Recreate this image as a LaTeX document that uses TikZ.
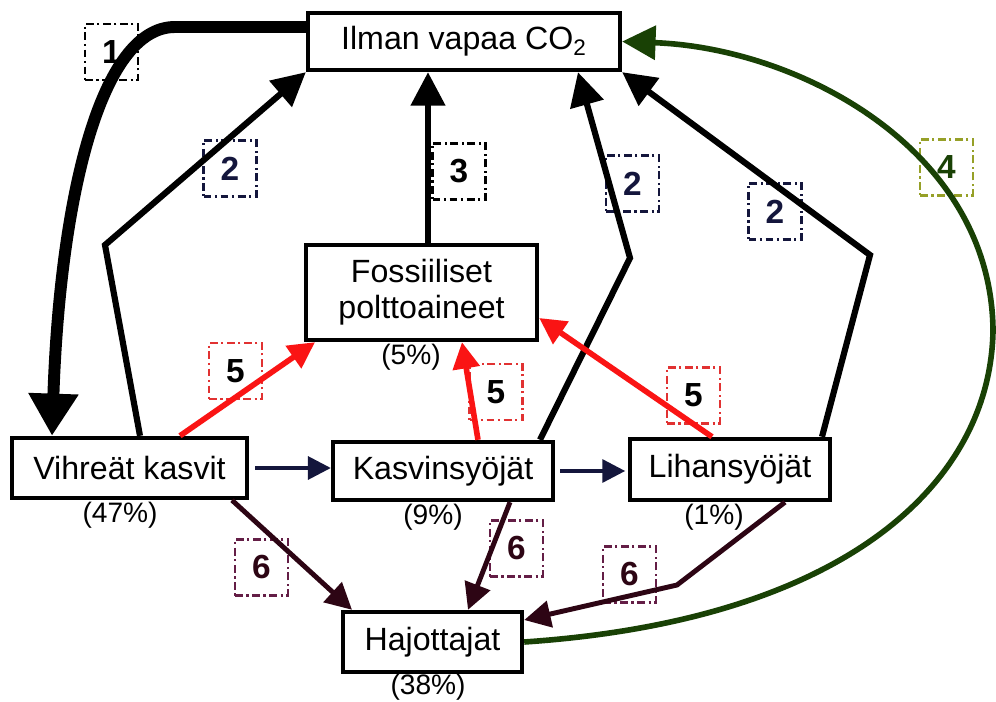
\documentclass[tikz,border=0pt]{standalone}
\usepackage{fontspec}
\setmainfont{Liberation Sans}
\usepackage{xcolor}
\usepackage{tikz}
\usetikzlibrary{arrows.meta, positioning}
\definecolor{navyline}{RGB}{20, 22, 60}
\definecolor{flowred}{RGB}{250, 20, 20}
\definecolor{tagred}{RGB}{225, 50, 50}
\definecolor{maroonline}{RGB}{45, 5, 20}
\definecolor{tagmaroon}{RGB}{100, 30, 70}
\definecolor{darkgreen}{RGB}{25, 65, 5}
\definecolor{tagolive}{RGB}{150, 160, 40}
\tikzstyle{block} = [
    rectangle,
    draw=black,
    line width=2.5pt,
    fill=white,
    align=center,
    inner sep=0pt,
    font=\fontsize{18.3}{20.4}\selectfont
]
\tikzstyle{pct} = [
    inner sep=0pt,
    font=\fontsize{16}{18}\selectfont
]
\tikzstyle{numtag} = [
    rectangle,
    draw=black,
    line width=1.2pt,
    dash pattern=on 4.5pt off 2pt on 1.2pt off 2pt,
    minimum width=1.06cm,
    minimum height=1.12cm,
    font=\fontsize{19}{20}\selectfont\bfseries
]
\tikzstyle{arrow} = [
    line width=3.5pt,
    -{Triangle[length=19pt, width=19pt]}
]
\tikzstyle{thinarrow} = [
    line width=2.8pt,
    -{Triangle[length=15pt, width=15pt]}
]

\begin{document}
\begin{tikzpicture}[x=0.02cm, y=-0.02cm]
        \fill[white] (0,0) rectangle (996,702);
        \useasboundingbox (0,0) rectangle (996,702);

        \node[numtag] (t1) at (111.5,52) {1};
        \node[numtag, draw=navyline, text=navyline] (t2a) at (230,168.5) {2};
        \node[numtag] (t3) at (459,171.5) {3};
        \node[numtag, draw=navyline, text=navyline] (t2b) at (632.5,183.5) {2};
        \node[numtag, draw=navyline, text=navyline] (t2c) at (775,211.5) {2};
        \node[numtag, draw=tagolive, text=darkgreen] (t4) at (946.5,167.5) {4};
        \node[numtag, draw=tagred] (t5a) at (235.5,371) {5};
        \node[numtag, draw=tagred] (t5b) at (496,392) {5};
        \node[numtag, draw=tagred] (t5c) at (693.5,395.5) {5};
        \node[numtag, draw=tagmaroon, text=maroonline] (t6a) at (261.5,567.5) {6};
        \node[numtag, draw=tagmaroon, text=maroonline] (t6b) at (516.5,548.5) {6};
        \node[numtag, draw=tagmaroon, text=maroonline] (t6c) at (629.5,574.5) {6};

        \node[block, minimum width=6.24cm, minimum height=1.14cm] (io) at (464,41.5) {Ilman vapaa CO\textsubscript{2}};
        \node[block, minimum width=4.62cm, minimum height=1.9cm] (fp) at (421.5,292.5) {Fossiiliset\\polttoaineet};
        \node[block, minimum width=4.7cm, minimum height=1.2cm] (vk) at (129.5,468) {Vihreät kasvit};
        \node[block, minimum width=4.4cm, minimum height=1.16cm] (ks) at (443,471) {Kasvinsyöjät};
        \node[block, minimum width=4cm, minimum height=1.22cm] (lh) at (730,469.5) {Lihansyöjät};
        \node[block, minimum width=3.58cm, minimum height=1.2cm] (hj) at (432.5,642) {Hajottajat};

        \node[pct, below=1pt of fp, xshift=-0.21cm] (fpp) {(5\%)};
        \node[pct, below=1pt of vk, xshift=-0.19cm] (vkp) {(47\%)};
        \node[pct, below=1pt of ks, xshift=-0.2cm] (ksp) {(9\%)};
        \node[pct, below=1pt of lh, xshift=-0.32cm] (lhp) {(1\%)};
        \node[pct, below=0pt of hj, xshift=-0.09cm] (hjp) {(38\%)};

        \coordinate (b1) at (175,27);
        \coordinate (b2a) at (105,245);
        \coordinate (b2b) at (630,258);
        \coordinate (b2c) at (870,255);
        \coordinate (b4) at (993,330);
        \coordinate (b6c) at (677,585);

        \draw[line width=6.8pt, -{Triangle[length=24pt, width=27pt]}] ([yshift=0.29cm]io.west) -- (b1) .. controls (100,27) and (60,200) .. ([xshift=-1.55cm]vk.north);
        \draw[arrow] ([xshift=0.21cm]vk.north) -- (b2a) -- (io.south west);
        \draw[arrow] ([xshift=0.13cm]fp.north) -- ([xshift=0.13cm]fp.north |- io.south);
        \draw[arrow] ([xshift=1.94cm]ks.north) -- (b2b) -- ([xshift=2.28cm]io.south);
        \draw[arrow] ([xshift=1.84cm]lh.north) -- (b2c) -- (io.south east);
        \draw[arrow, color=darkgreen, line width=3.2pt] (hj.east) .. controls (850,620) and (991,480) .. (b4) .. controls (991,150) and (800,48) .. (io.east);

        \draw[arrow, color=flowred, line width=3.2pt, -{Triangle[length=15pt, width=15pt]}] ([xshift=1.01cm]vk.north) -- ([xshift=-2.13cm]fp.south);
        \draw[arrow, color=flowred, line width=3.2pt, -{Triangle[length=15pt, width=15pt]}] ([xshift=0.7cm]ks.north) -- ([xshift=0.81cm]fp.south);
        \draw[arrow, color=flowred, line width=3.2pt, -{Triangle[length=15pt, width=15pt]}] ([xshift=-0.36cm]lh.north) -- ([yshift=-0.51cm]fp.east);

        \draw[line width=2pt, color=navyline, -{Triangle[length=13pt, width=13pt]}, shorten <=3.5pt] (vk.east) -- (vk.east -| ks.west);
        \draw[line width=2pt, color=navyline, -{Triangle[length=13pt, width=13pt]}, shorten <=3pt, shorten >=1.5pt] (ks.east) -- (ks.east -| lh.west);

        \draw[thinarrow, color=maroonline] ([xshift=2.05cm]vk.south) -- ([xshift=-1.61cm]hj.north);
        \draw[thinarrow, color=maroonline] ([xshift=1.34cm]ks.south) -- ([xshift=0.71cm]hj.north);
        \draw[thinarrow, color=maroonline] ([xshift=1.1cm]lh.south) -- (b6c) -- ([yshift=0.44cm]hj.east);
    \end{tikzpicture}
\end{document}
